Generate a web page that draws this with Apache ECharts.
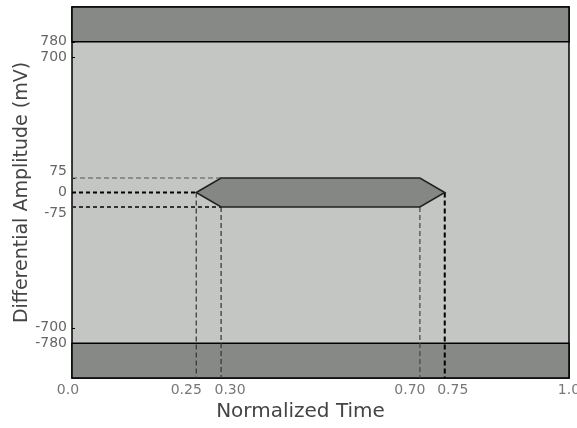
<!DOCTYPE html>
<html>
<head>
<meta charset="utf-8">
<script src="https://cdn.jsdelivr.net/npm/echarts@6/dist/echarts.min.js"></script>
<style>html,body{margin:0;padding:0;background:#fff;}#c{width:577px;height:428px;}</style>
</head>
<body>
<div id="c"></div>
<script>
// ---- data ----
const timeTicks = [0, 0.25, 0.30, 0.70, 0.75, 1.0];
const timeTickLabels = ['0.0', '0.25', '0.30', '0.70', '0.75', '1.0'];
const ampTicks = [780, 700, 75, 0, -75, -700, -780];
const ampRange = [-960, 960];
const timeRange = [0, 1];
// eye mask hexagon
const maskTime = [0.25, 0.30, 0.70, 0.75, 0.70, 0.30];
const maskAmp = [0, 75, 75, 0, -75, -75];
// forbidden bands
const upperBand = [780, 960];
const lowerBand = [-960, -780];
// horizontal guides
const hGuideAmp = [75, 0, -75];
const hGuideEnd = [0.30, 0.25, 0.30];
// vertical guides
const vGuideTime = [0.25, 0.30, 0.70, 0.75];
const vGuideStart = [0, -75, -75, 0];

// ---- styles (label nudges to avoid overlap, as in the original) ----
const xLabelNudge = {'0.0': -4, '0.25': -10, '0.30': 9, '0.70': -10, '0.75': 8, '1.0': 0};
const yLabelNudge = {'75': -7, '-75': 6};

const hStyles = [
  {color: '#555', width: 1, type: [5, 3]},
  {color: '#000', width: 2, type: [4, 3]},
  {color: '#333', width: 2, type: [4, 3]}
];
const vStyles = [
  {color: '#333', width: 1.2, type: [5, 3]},
  {color: '#333', width: 1.2, type: [5, 3]},
  {color: '#444', width: 1.2, type: [5, 3]},
  {color: '#000', width: 2, type: [5, 3]}
];

const series = [];
series.push({
  type: 'custom', silent: true, z: 1,
  data: [upperBand, lowerBand],
  renderItem: function (params, api) {
    const lo = api.value(0), hi = api.value(1);
    const p1 = api.coord([timeRange[0], hi]);
    const p2 = api.coord([timeRange[1], lo]);
    return {
      type: 'rect',
      shape: {x: p1[0], y: p1[1], width: p2[0] - p1[0], height: p2[1] - p1[1]},
      style: {fill: '#878987', stroke: '#000', lineWidth: 1.5}
    };
  }
});
series.push({
  type: 'custom', silent: true, z: 5,
  data: [0],
  renderItem: function (params, api) {
    const pts = maskTime.map((t, i) => api.coord([t, maskAmp[i]]));
    return {
      type: 'polygon',
      shape: {points: pts},
      style: {fill: '#858785', stroke: '#222', lineWidth: 1.6}
    };
  }
});
hGuideAmp.forEach((a, i) => {
  series.push({
    type: 'line', silent: true, z: 4, symbol: 'none',
    data: [[timeRange[0], a], [hGuideEnd[i], a]],
    lineStyle: hStyles[i]
  });
});
vGuideTime.forEach((t, i) => {
  series.push({
    type: 'line', silent: true, z: 4, symbol: 'none',
    data: [[t, vGuideStart[i]], [t, ampRange[0]]],
    lineStyle: vStyles[i]
  });
});

const xRich = {};
Object.keys(xLabelNudge).forEach((k, i) => {
  const d = xLabelNudge[k];
  xRich['x' + i] = {padding: d < 0 ? [0, -2 * d, 0, 0] : [0, 0, 0, 2 * d],
    fontFamily: 'DejaVu Sans', fontSize: 14, color: '#777'};
});
const yRich = {};
ampTicks.forEach((v, i) => {
  const d = yLabelNudge[String(v)] || 0;
  yRich['y' + i] = {padding: d < 0 ? [0, 0, -2 * d, 0] : [2 * d, 0, 0, 0],
    fontFamily: 'DejaVu Sans', fontSize: 14, color: '#666'};
});

const chart = echarts.init(document.getElementById('c'), null, {renderer: 'canvas'});
chart.setOption({
  animation: false,
  backgroundColor: '#fff',
  grid: {
    left: 72, right: 8, top: 7, bottom: 50,
    outerBoundsMode: 'none', containLabel: false,
    show: true, backgroundColor: '#c4c6c4', borderColor: '#000', borderWidth: 1.5
  },
  xAxis: {
    type: 'value', min: timeRange[0], max: timeRange[1],
    name: 'Normalized Time', nameLocation: 'middle', nameGap: 21,
    nameTextStyle: {fontFamily: 'DejaVu Sans', fontSize: 20, color: '#444', padding: [0, 40, 0, 0]},
    axisLine: {show: false}, splitLine: {show: false},
    axisTick: {show: false},
    axisLabel: {
      customValues: timeTicks, margin: 5, hideOverlap: false,
      rich: xRich,
      formatter: function (v) {
        const i = timeTicks.findIndex(t => Math.abs(t - v) < 1e-9);
        return i >= 0 ? '{x' + i + '|' + timeTickLabels[i] + '}' : '';
      }
    }
  },
  yAxis: {
    type: 'value', min: ampRange[0], max: ampRange[1],
    name: 'Differential Amplitude (mV)', nameLocation: 'middle', nameGap: 40,
    nameMoveOverlap: false,
    nameTextStyle: {fontFamily: 'DejaVu Sans', fontSize: 19, color: '#444'},
    axisLine: {show: false}, splitLine: {show: false},
    axisTick: {show: true, customValues: ampTicks, inside: true, length: 3, lineStyle: {color: '#000'}},
    axisLabel: {
      customValues: ampTicks, margin: 5, hideOverlap: false,
      rich: yRich,
      formatter: function (v) {
        const i = ampTicks.indexOf(v);
        return i >= 0 ? '{y' + i + '|' + v + '}' : '';
      }
    }
  },
  series: series
});
</script>
</body>
</html>
